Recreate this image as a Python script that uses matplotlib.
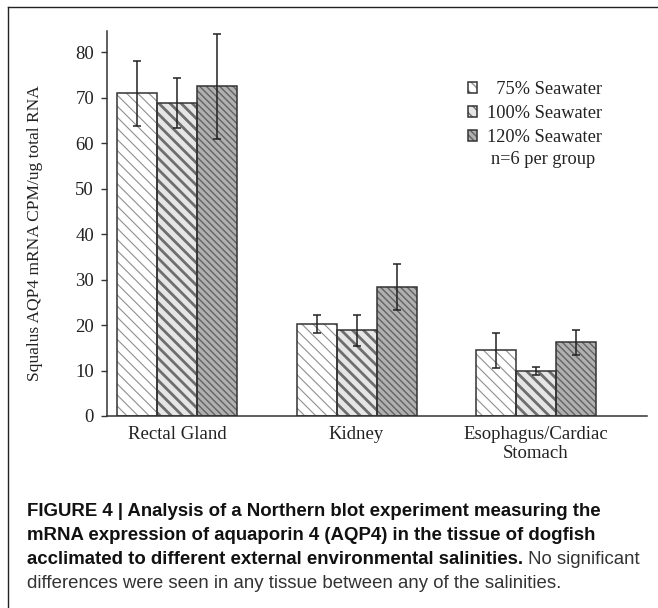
import numpy as np
import matplotlib
matplotlib.use("Agg")
import matplotlib.pyplot as plt
from matplotlib.lines import Line2D
from matplotlib.legend_handler import HandlerTuple

# tissues and group means
tissues = ["Rectal Gland", "Kidney", "Esophagus/Cardiac\nStomach"]
series = ["  75% Seawater", "100% Seawater", "120% Seawater"]
sw75 = [70.9, 20.2, 14.4]
sw100 = [68.9, 18.8, 9.9]
sw120 = [72.5, 28.4, 16.2]
err75 = [7.2, 2.0, 3.8]
err100 = [5.5, 3.4, 0.85]
err120 = [11.5, 5.0, 2.7]

serif = "Liberation Serif"
sans = "Liberation Sans"

fig = plt.figure(figsize=(6.58, 6.08), dpi=100)
W, H = 658, 608
ax = fig.add_axes([107.3 / W, 1 - 416 / H, (647 - 107.3) / W, (416 - 30.7) / H])

width = 0.2228
x = np.arange(len(tissues))
styles = [
    # face, hatch color, hatch, hatch lw
    ("#ffffff", "#8f8f8f", "\\\\\\", 0.8),
    ("#e6e6e6", "#6e6e6e", "\\\\\\", 2.0),
    ("#b0b0b0", "#626262", "\\\\\\\\\\", 1.0),
]
handles = []
for i, (vals, errs) in enumerate(zip([sw75, sw100, sw120], [err75, err100, err120])):
    face, hc, hatch, hlw = styles[i]
    pos = x + (i - 1) * width
    plt.rcParams["hatch.linewidth"] = hlw
    bars = ax.bar(pos, vals, width, color=face, edgecolor=hc, hatch=hatch,
                  linewidth=0, zorder=2)
    for b in bars:
        try:
            b.set_hatch_linewidth(hlw)
        except AttributeError:
            pass
    edges = ax.bar(pos, vals, width, fill=False, edgecolor="#333333",
                   linewidth=1.1, zorder=3)
    ax.errorbar(pos, vals, yerr=errs, fmt="none", ecolor="#222222",
                elinewidth=1.1, capsize=3.2, capthick=1.1, zorder=4)
    handles.append((bars[0], edges[0]))

ax.set_xlim(-0.388, 2.618)
ax.set_ylim(0, 84.7)
ax.set_yticks(range(0, 81, 10))
ax.set_xticks(x)
ax.set_xticklabels(tissues, fontfamily=serif, fontsize=13.5, color="#222222",
                   linespacing=1.2)
for lab in ax.get_yticklabels():
    lab.set_fontfamily(serif)
    lab.set_fontsize(13.5)
    lab.set_color("#222222")
ax.tick_params(axis="y", length=4.5, width=1, pad=5, color="#333333")
ax.tick_params(axis="x", length=0, pad=7)
for s in ["top", "right"]:
    ax.spines[s].set_visible(False)
for s in ["left", "bottom"]:
    ax.spines[s].set_color("#333333")
    ax.spines[s].set_linewidth(1.1)

fig.text(35 / W, 1 - 233 / H, "Squalus AQP4 mRNA CPM/ug total RNA",
         rotation=90, ha="center", va="center", fontfamily=serif,
         fontsize=12.5, color="#222222")

leg = ax.legend(handles, series, handler_map={tuple: HandlerTuple(ndivide=1, pad=0)},
                loc="upper left", bbox_to_anchor=(0.668, 0.869), frameon=False,
                prop={"family": serif, "size": 13.2}, handlelength=0.5,
                handleheight=0.5, handletextpad=0.55, labelspacing=0.38,
                borderpad=0, borderaxespad=0)
for t in leg.get_texts():
    t.set_color("#222222")
ax.text((543 - 107.3) / (647 - 107.3), (416 - 160) / (416 - 30.7),
        "n=6 per group", transform=ax.transAxes, ha="center", va="center",
        fontfamily=serif, fontsize=13.2, color="#222222")

# frame lines of the figure panel
fig.add_artist(Line2D([8 / W, 1], [1 - 7 / H, 1 - 7 / H], color="#222222", lw=1))
fig.add_artist(Line2D([8 / W, 8 / W], [0, 1 - 7 / H], color="#222222", lw=1))

# caption
cx = 26.7 / W
cs = 13.4
lines = [
    "FIGURE 4 | Analysis of a Northern blot experiment measuring the",
    "mRNA expression of aquaporin 4 (AQP4) in the tissue of dogfish",
    "acclimated to different external environmental salinities.",
]
base = [516, 540, 564]
for txt, yb in zip(lines, base):
    t = fig.text(cx, 1 - yb / H, txt, fontfamily=sans, fontweight="bold",
                 fontsize=cs, color="#111111", va="baseline")
ax.annotate(" No significant", xy=(1, 0), xycoords=t, xytext=(0, 0),
            textcoords="offset points", fontfamily=sans, fontsize=cs,
            color="#333333", va="bottom", annotation_clip=False)
fig.text(cx, 1 - 588 / H,
         "differences were seen in any tissue between any of the salinities.",
         fontfamily=sans, fontsize=cs, color="#333333", va="baseline")

fig.savefig("out.png", dpi=100)
